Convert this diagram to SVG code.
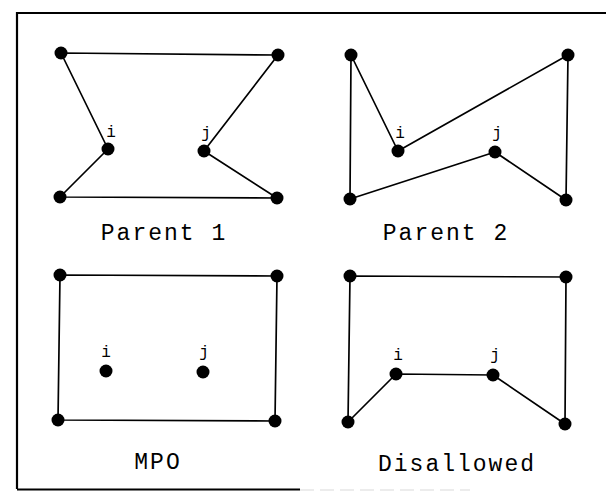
<svg xmlns="http://www.w3.org/2000/svg" width="606" height="493" viewBox="0 0 606 493">
  <style>
    .edge { fill: none; stroke: #000; stroke-width: 1.7; stroke-linejoin: round; }
    .frame { fill: none; stroke: #000; stroke-width: 2.2; }
    .dot { fill: #000; }
    .lbl { font-family: "Liberation Mono", "DejaVu Sans Mono", monospace; font-size: 16px; fill: #000; text-anchor: middle; }
    .cap { font-family: "Liberation Mono", "DejaVu Sans Mono", monospace; font-size: 23px; letter-spacing: 2px; fill: #000; text-anchor: middle; }
  </style>

  <!-- outer frame -->
  <g id="frame">
    <path class="frame" d="M17,489 L17,13 L606,13"/>
    <path class="frame" d="M17,489.5 L300,489.5"/>
    <path d="M300,490 L470,490" fill="none" stroke="#e6e6e6" stroke-width="1.5" stroke-dasharray="14 6"/>
  </g>

  <!-- tours drawn as closed polygons -->
  <g id="connectors">
    <polygon class="edge" points="61,53 278,55 204,151 277,198 60,197 108,149"/>
    <polygon class="edge" points="351,55 398,151 568,55 566,200 495,152 350,199"/>
    <polygon class="edge" points="60,275 277,276 275,421 58,420"/>
    <polygon class="edge" points="350,276 566,277 565,424 493,375 396,374 348,422"/>
  </g>

  <!-- Parent 1 -->
  <g id="parent1">
    <circle class="dot" cx="61" cy="53" r="6.5"/>
    <circle class="dot" cx="278" cy="55" r="6.5"/>
    <circle class="dot" cx="108" cy="149" r="6.5"/>
    <circle class="dot" cx="204" cy="151" r="6.5"/>
    <circle class="dot" cx="60" cy="197" r="6.5"/>
    <circle class="dot" cx="277" cy="198" r="6.5"/>
    <text class="lbl" x="111" y="137">i</text>
    <text class="lbl" x="206" y="138">j</text>
    <text class="cap" x="164" y="240">Parent 1</text>
  </g>

  <!-- Parent 2 -->
  <g id="parent2">
    <circle class="dot" cx="351" cy="55" r="6.5"/>
    <circle class="dot" cx="568" cy="55" r="6.5"/>
    <circle class="dot" cx="398" cy="151" r="6.5"/>
    <circle class="dot" cx="495" cy="152" r="6.5"/>
    <circle class="dot" cx="350" cy="199" r="6.5"/>
    <circle class="dot" cx="566" cy="200" r="6.5"/>
    <text class="lbl" x="400" y="138">i</text>
    <text class="lbl" x="497" y="138">j</text>
    <text class="cap" x="446" y="240">Parent 2</text>
  </g>

  <!-- MPO -->
  <g id="mpo">
    <circle class="dot" cx="60" cy="275" r="6.5"/>
    <circle class="dot" cx="277" cy="276" r="6.5"/>
    <circle class="dot" cx="58" cy="420" r="6.5"/>
    <circle class="dot" cx="275" cy="421" r="6.5"/>
    <circle class="dot" cx="106" cy="371" r="6.5"/>
    <circle class="dot" cx="203" cy="372" r="6.5"/>
    <text class="lbl" x="106" y="357">i</text>
    <text class="lbl" x="204" y="357">j</text>
    <text class="cap" x="158" y="469">MPO</text>
  </g>

  <!-- Disallowed -->
  <g id="disallowed">
    <circle class="dot" cx="350" cy="276" r="6.5"/>
    <circle class="dot" cx="566" cy="277" r="6.5"/>
    <circle class="dot" cx="396" cy="374" r="6.5"/>
    <circle class="dot" cx="493" cy="375" r="6.5"/>
    <circle class="dot" cx="348" cy="422" r="6.5"/>
    <circle class="dot" cx="565" cy="424" r="6.5"/>
    <text class="lbl" x="398" y="360">i</text>
    <text class="lbl" x="495" y="360">j</text>
    <text class="cap" x="457" y="471">Disallowed</text>
  </g>
</svg>
